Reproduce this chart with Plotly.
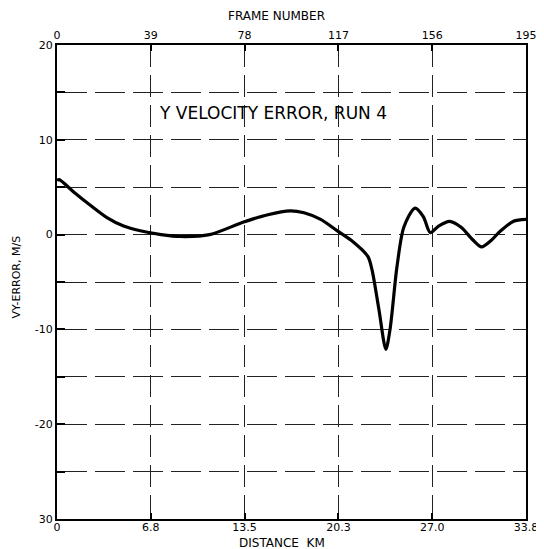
import plotly.graph_objects as go

# Curve: distance (km) vs Y velocity error (m/s)
distance_km = [0.0, 0.15, 1.2, 2.4, 3.6, 4.8, 6.0, 7.5, 8.9, 11.0, 13.4, 15.2, 16.8, 17.8, 19.0, 20.2,
               21.2, 22.4, 22.7, 23.2, 23.7, 24.0, 24.5, 25.0, 25.8, 26.4, 26.9, 27.5,
               28.3, 29.1, 30.0, 30.6, 31.3, 31.9, 32.9, 33.8]
vy_error = [5.7, 5.8, 4.5, 3.1, 1.8, 0.9, 0.4, 0.0, -0.2, 0.0, 1.3, 2.1, 2.5, 2.3, 1.6, 0.4,
            -0.6, -2.3, -3.7, -7.9, -12.1, -10.0, -3.4, 0.8, 2.8, 1.9, 0.2, 0.9,
            1.4, 0.8, -0.6, -1.3, -0.6, 0.3, 1.4, 1.6]

x_tickvals = [0, 6.76, 13.52, 20.28, 27.04, 33.8]
x_ticktext = ["0", "6.8", "13.5", "20.3", "27.0", "33.8"]
frame_tickvals = [0, 39, 78, 117, 156, 195]
frame_ticktext = ["0", "39", "78", "117", "156", "195"]
y_tickvals = [20, 15, 10, 5, 0, -5, -10, -15, -20, -25, -30]
y_ticktext = ["20", "", "10", "", "0", "", "-10", "", "-20", "", "30"]

FONT = "DejaVu Sans"

fig = go.Figure()
fig.add_trace(go.Scatter(x=distance_km, y=vy_error, mode="lines",
                         line=dict(color="black", width=3.2, shape="spline", smoothing=0.8),
                         showlegend=False, hoverinfo="skip"))
# invisible trace on top axis
fig.add_trace(go.Scatter(x=[0, 195], y=[None, None], xaxis="x2", mode="lines",
                         showlegend=False, hoverinfo="skip"))

fig.update_layout(
    width=536, height=541,
    margin=dict(l=49, r=18, t=37, b=30, autoexpand=False),
    paper_bgcolor="white", plot_bgcolor="white",
    font=dict(family=FONT, color="black", size=11),
    xaxis=dict(range=[0, 33.8], tickvals=x_tickvals, ticktext=x_ticktext,
               ticks="inside", ticklen=6, tickcolor="black", tickwidth=1.5,
               ticklabelstandoff=-3,
               showline=True, linecolor="black", linewidth=2, mirror=False,
               showgrid=True, gridcolor="#222", gridwidth=1.2, griddash="22px,8px",
               zeroline=False, automargin=False),
    xaxis2=dict(range=[0, 195], overlaying="x", side="top", tickvals=frame_tickvals,
                ticktext=frame_ticktext, ticks="inside", ticklen=6, tickcolor="black",
                tickwidth=1.5, showline=True, linecolor="black", linewidth=2,
                showgrid=False, zeroline=False, automargin=False),
    yaxis=dict(range=[-30, 20], tickvals=y_tickvals, ticktext=y_ticktext,
               ticks="inside", ticklen=8, tickcolor="black", tickwidth=1.5,
               showline=True, linecolor="black", linewidth=2, mirror=True,
               showgrid=True, gridcolor="#222", gridwidth=1.2, griddash="30px,8px",
               zeroline=False, automargin=False),
    annotations=[
        dict(text="Y VELOCITY ERROR, RUN 4", xref="paper", yref="y",
             x=0.46, y=12.8, showarrow=False,
             font=dict(family=FONT, size=17, color="black")),
        dict(text="DISTANCE  KM", xref="paper", yref="paper", x=0.48, y=-0.05,
             yanchor="middle", showarrow=False, font=dict(size=12)),
        dict(text="FRAME NUMBER", xref="paper", yref="paper", x=0.469, y=1.062,
             yanchor="middle", showarrow=False, font=dict(size=12)),
        dict(text="VY-ERROR, M/S", xref="paper", yref="paper", x=-0.087, y=0.51,
             xanchor="center", yanchor="middle", textangle=-90, showarrow=False,
             font=dict(size=11)),
    ],
)

fig.write_html("out.html")
